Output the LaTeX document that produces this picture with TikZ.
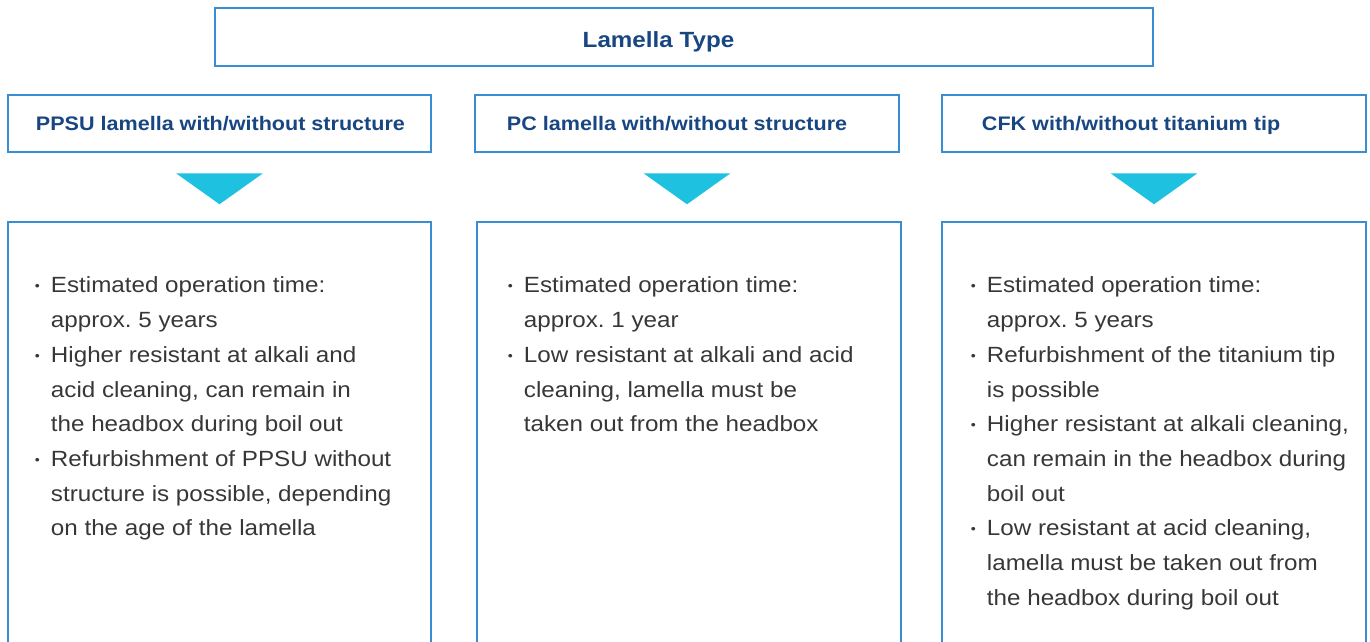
\documentclass[tikz,border=0pt]{standalone}
\usepackage{fontspec}
\setmainfont{Liberation Sans}[FakeStretch=1.1]
\usetikzlibrary{calc, positioning}
\definecolor{boxBlue}{RGB}{58,141,208}
\definecolor{headBlue}{RGB}{24,70,130}
\definecolor{markCyan}{RGB}{30,193,224}
\definecolor{bodyGray}{RGB}{55,55,55}
\tikzset{
    frameBox/.style={draw=boxBlue, line width=2.5pt, inner sep=0pt},
    headText/.style={text=headBlue, font=\fontsize{19.6}{22}\selectfont\bfseries, inner sep=0pt, anchor=base west},
    bodyText/.style={text=bodyGray, font=\fontsize{22}{34.7}\selectfont, align=left, inner sep=0pt, anchor=north west},
    marker/.style={fill=markCyan},
}
\newcommand{\bul}{\makebox[16pt][l]{\fontsize{13}{13}\selectfont\raisebox{2pt}{•}}}
\newcommand{\ind}{\hspace*{16pt}}
\newcommand{\drawMarker}[1]{
    % Dreieck unter dem Kopf
    \fill[marker] ($(#1.south)+(-43.5,20)$) -- ++(87,0) -- ($(#1.south)+(0,51)$) -- cycle;
}
\frenchspacing

\begin{document}
\begin{tikzpicture}[x=1pt, y=-1pt]
    \useasboundingbox (0,0) rectangle (1370,641);

    \node[frameBox, minimum width=938pt, minimum height=58pt] (top) at (684, 37) {};
    \node[headText, anchor=base, font=\fontsize{22}{24}\selectfont\bfseries] (title) at ($(top.center)+(-25.5,10)$) {Lamella Type};

    \node[frameBox, minimum width=423pt, minimum height=57pt] (h1) at (219.5, 123.5) {};
    \node[frameBox, minimum width=424pt, minimum height=57pt] (h2) at (687, 123.5) {};
    \node[frameBox, minimum width=424pt, minimum height=57pt] (h3) at (1154, 123.5) {};
    \node[headText] (t1) at ($(h1.west)+(29,7)$) {PPSU lamella with/without structure};
    \node[headText] (t2) at ($(h2.west)+(33,7)$) {PC lamella with/without structure};
    \node[headText] (t3) at ($(h3.west)+(41,7)$) {CFK with/without titanium tip};

    \drawMarker{h1}
    \drawMarker{h2}
    \drawMarker{h3}

    \node[frameBox, minimum width=423pt, minimum height=478pt] (b1) at (219.5, 461) {};
    \node[frameBox, minimum width=424pt, minimum height=478pt] (b2) at (689, 461) {};
    \node[frameBox, minimum width=424pt, minimum height=478pt] (b3) at (1154, 461) {};

    \node[bodyText] (l1) at ($(b1.north west)+(28,56)$) {%
        \bul Estimated operation time:\\
        \ind approx. 5 years\\
        \bul Higher resistant at alkali and\\
        \ind acid cleaning, can remain in\\
        \ind the headbox during boil out\\
        \bul Refurbishment of PPSU without\\
        \ind structure is possible, depending\\
        \ind on the age of the lamella};
    \node[bodyText] (l2) at ($(b2.north west)+(32,56)$) {%
        \bul Estimated operation time:\\
        \ind approx. 1 year\\
        \bul Low resistant at alkali and acid\\
        \ind cleaning, lamella must be\\
        \ind taken out from the headbox};
    \node[bodyText] (l3) at ($(b3.north west)+(30,56)$) {%
        \bul Estimated operation time:\\
        \ind approx. 5 years\\
        \bul Refurbishment of the titanium tip\\
        \ind is possible\\
        \bul Higher resistant at alkali cleaning,\\
        \ind can remain in the headbox during\\
        \ind boil out\\
        \bul Low resistant at acid cleaning,\\
        \ind lamella must be taken out from\\
        \ind the headbox during boil out};

\end{tikzpicture}
\end{document}
